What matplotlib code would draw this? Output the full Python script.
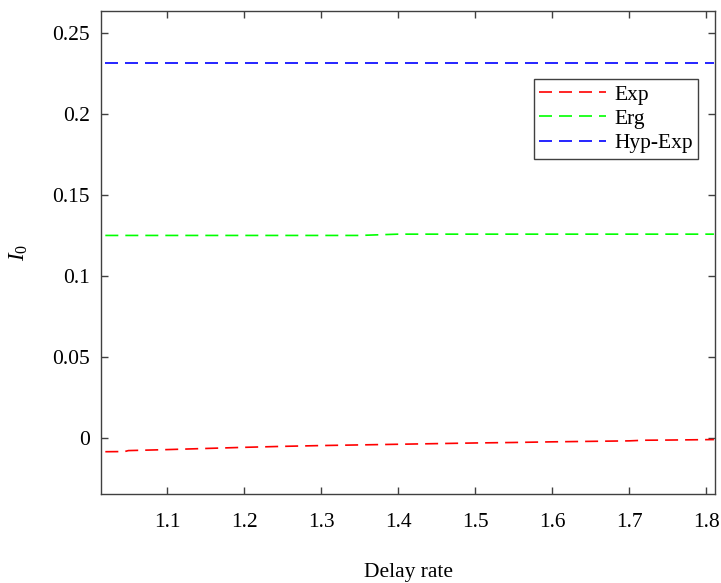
import matplotlib
matplotlib.use("Agg")
import matplotlib.pyplot as plt

plt.rcParams['font.family'] = ['Liberation Serif', 'DejaVu Serif']
plt.rcParams['mathtext.fontset'] = 'custom'
plt.rcParams['mathtext.rm'] = 'Liberation Serif'
plt.rcParams['mathtext.it'] = 'Liberation Serif:italic'

# data
delay_rate = [1.02, 1.045, 1.05, 1.1, 1.15, 1.2, 1.25, 1.3, 1.35, 1.4, 1.45,
              1.5, 1.55, 1.6, 1.65, 1.7, 1.72, 1.75, 1.81]
i0_exp = [-0.0086, -0.0085, -0.0079, -0.0073, -0.0066, -0.0059, -0.0053,
          -0.0048, -0.0044, -0.0040, -0.0036, -0.0032, -0.0029, -0.0025,
          -0.0022, -0.0019, -0.0015, -0.0014, -0.0011]
i0_erg = [0.1250] * 9 + [0.1258] * 10
i0_hyp = [0.2316] * 19

FS = 15.5

fig, ax = plt.subplots(figsize=(7.21, 5.83), dpi=100)
fig.subplots_adjust(left=0.140, right=0.992, top=0.981, bottom=0.153)

dash = (7.8, 4.2)
ax.plot(delay_rate, i0_exp, color='#ff0000', lw=1.2, dashes=dash, label='Exp')
ax.plot(delay_rate, i0_erg, color='#00ff00', lw=1.2, dashes=dash, label='Erg')
ax.plot(delay_rate, i0_hyp, color='#0000ff', lw=1.2, dashes=dash, label='Hyp-Exp')

ax.set_xlim(1.0143, 1.8117)
ax.set_ylim(-0.0346, 0.2636)
ax.set_xticks([1.1, 1.2, 1.3, 1.4, 1.5, 1.6, 1.7, 1.8])
ax.set_xticklabels(['1.1', '1.2', '1.3', '1.4', '1.5', '1.6', '1.7', '1.8'])
ax.set_yticks([0, 0.05, 0.1, 0.15, 0.2, 0.25])
ax.set_yticklabels(['0', '0.05', '0.1', '0.15', '0.2', '0.25'])

ax.tick_params(direction='in', top=True, right=True, length=5, width=1,
               color='#404040', labelsize=FS)
ax.tick_params(axis='x', pad=14)
ax.tick_params(axis='y', pad=8)
for s in ax.spines.values():
    s.set_color('#404040')
    s.set_linewidth(1)

ax.set_xlabel('Delay rate', fontsize=FS, labelpad=22)
ax.set_ylabel(r'$I_0$', fontsize=FS + 1, labelpad=16)

leg = ax.legend(loc='upper right', bbox_to_anchor=(0.972, 0.859), fontsize=FS,
                handlelength=3.1, handletextpad=0.37, borderpad=0.25,
                labelspacing=0.2, fancybox=False, framealpha=1,
                edgecolor='#404040', borderaxespad=0)
leg.get_frame().set_linewidth(1)

fig.savefig('out.png', dpi=100)
